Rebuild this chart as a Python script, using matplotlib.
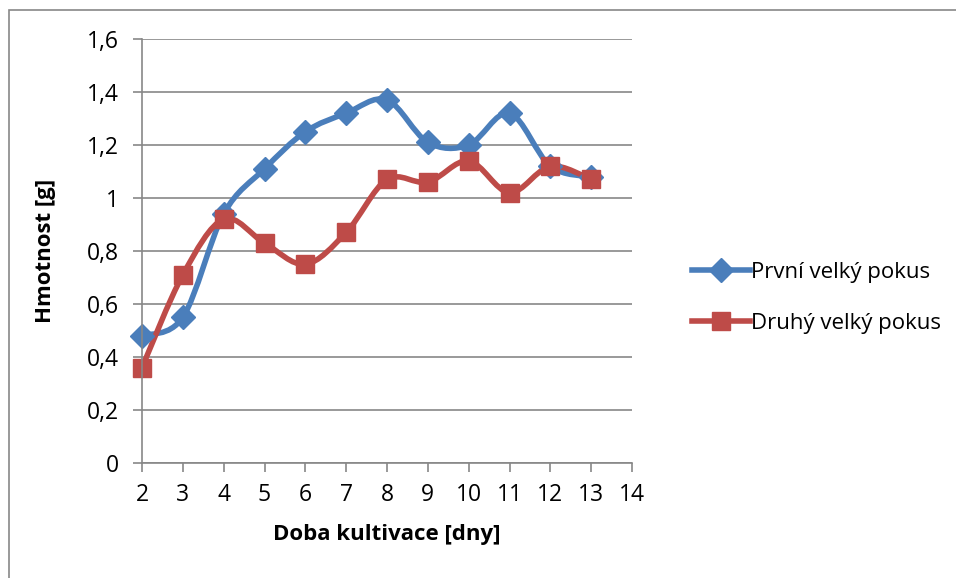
import matplotlib
matplotlib.use("Agg")
import matplotlib.pyplot as plt
from matplotlib.path import Path
from matplotlib.patches import PathPatch, Rectangle
from matplotlib.lines import Line2D

days = [2, 3, 4, 5, 6, 7, 8, 9, 10, 11, 12, 13]
prvni = [0.48, 0.55, 0.94, 1.11, 1.25, 1.32, 1.37, 1.21, 1.20, 1.32, 1.12, 1.08]
druhy = [0.36, 0.71, 0.92, 0.83, 0.75, 0.87, 1.07, 1.06, 1.14, 1.02, 1.12, 1.07]
names = ["První velký pokus", "Druhý velký pokus"]
colors = ["#4A7EBB", "#BE4B48"]

plt.rcParams['font.family'] = ['Open Sans', 'DejaVu Sans']
grey = "#878787"


def smooth_path(xs, ys):
    # cardinal spline as bezier segments, like office "smoothed line"
    pts = list(zip(xs, ys))
    verts = [pts[0]]
    codes = [Path.MOVETO]
    n = len(pts)
    for i in range(n - 1):
        p0 = pts[i - 1] if i > 0 else pts[i]
        p1 = pts[i]
        p2 = pts[i + 1]
        p3 = pts[i + 2] if i + 2 < n else pts[i + 1]
        c1 = (p1[0] + (p2[0] - p0[0]) / 6, p1[1] + (p2[1] - p0[1]) / 6)
        c2 = (p2[0] - (p3[0] - p1[0]) / 6, p2[1] - (p3[1] - p1[1]) / 6)
        verts += [c1, c2, p2]
        codes += [Path.CURVE4] * 3
    return Path(verts, codes)


fig = plt.figure(figsize=(9.56, 5.78), dpi=100)
fig.patches.append(Rectangle((9 / 956, -0.1), 1.2, 1.1 - 10 / 578,
                             transform=fig.transFigure, fill=False,
                             edgecolor=grey, linewidth=1.2))
ax = fig.add_axes([142 / 956, 1 - 463 / 578, 490 / 956, 424 / 578])

ax.set_xlim(2, 14)
ax.set_ylim(0, 1.6)
ax.set_xticks(range(2, 15))
ax.set_yticks([0, 0.2, 0.4, 0.6, 0.8, 1.0, 1.2, 1.4, 1.6])
ax.set_yticklabels(["0", "0,2", "0,4", "0,6", "0,8", "1", "1,2", "1,4", "1,6"])
ax.grid(axis='y', color=grey, linewidth=1.2)
ax.set_axisbelow(True)
for s in ["top", "right"]:
    ax.spines[s].set_visible(False)
for s in ["left", "bottom"]:
    ax.spines[s].set_color(grey)
    ax.spines[s].set_linewidth(1.2)
ax.tick_params(colors=grey, labelcolor="black", labelsize=16.5, length=6.5,
               width=1.2)
ax.tick_params(axis="y", pad=10)
ax.tick_params(axis="x", pad=8)

markers = ["D", "s"]
sizes = [12, 13]
handles = []
for ys, c, m, ms, name in zip([prvni, druhy], colors, markers, sizes, names):
    ax.add_patch(PathPatch(smooth_path(days, ys), facecolor="none",
                           edgecolor=c, linewidth=4, capstyle="round",
                           joinstyle="round", clip_on=False))
    ax.plot(days, ys, linestyle="none", marker=m, markersize=ms, color=c,
            clip_on=False)
    handles.append(Line2D([], [], color=c, linewidth=4, marker=m,
                          markersize=ms, label=name))

ax.set_xlabel("Doba kultivace [dny]", fontsize=16, fontweight="bold",
              labelpad=12)
ax.set_ylabel("Hmotnost [g]", fontsize=16, fontweight="bold", labelpad=22)

fig.legend(handles=handles, loc="center left",
           bbox_to_anchor=(672 / 956, 1 - 298 / 578), frameon=False,
           fontsize=16, handlelength=2.6, handletextpad=0.05,
           labelspacing=1.35)

fig.savefig("out.png", dpi=100)
